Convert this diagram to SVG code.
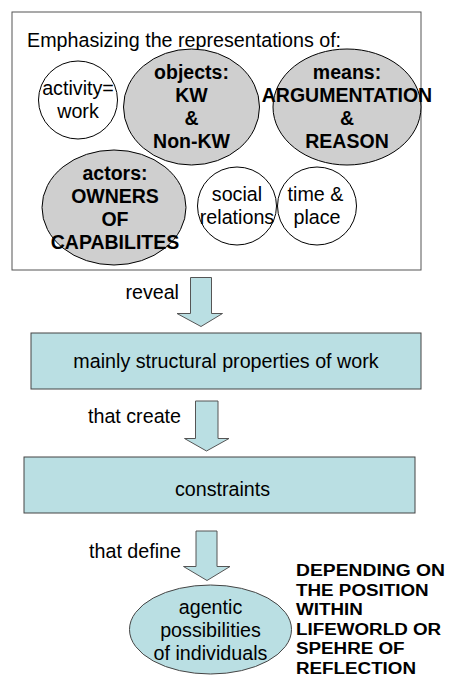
<svg xmlns="http://www.w3.org/2000/svg" width="450" height="697" viewBox="0 0 450 697">
<style>
  text { font-family: "Liberation Sans", Arial, sans-serif; fill: #000; }
  .r { font-size: 19.7px; }
  .b { font-size: 19.5px; font-weight: bold; }
  .n { font-size: 17.4px; font-weight: bold; }
  .c { text-anchor: middle; }
  .e { text-anchor: end; }
  .white { fill: #ffffff; stroke: #000; stroke-width: 1; }
  .gray { fill: #cfcfcf; stroke: #000; stroke-width: 1; }
  .blue { fill: #badfe3; stroke: #444; stroke-width: 1; }
  .arrow { fill: #badfe3; stroke: #555; stroke-width: 1; }
</style>
<rect width="450" height="697" fill="#ffffff"/>
<g id="frame">
  <rect x="12" y="12" width="409" height="258" fill="#ffffff" stroke="#555" stroke-width="1"/>
  <text class="r" x="27" y="47">Emphasizing the representations of:</text>
</g>
<g id="activity">
  <ellipse class="white" cx="78" cy="100" rx="39.5" ry="39"/>
  <text class="r c" x="78" y="95">activity=</text>
  <text class="r c" x="78" y="118">work</text>
</g>
<g id="objects">
  <ellipse class="gray" cx="191.5" cy="107" rx="68" ry="58"/>
  <text class="b c" x="191.5" y="79">objects:</text>
  <text class="b c" x="191.5" y="101.7">KW</text>
  <text class="b c" x="191.5" y="124.5">&amp;</text>
  <text class="b c" x="191.5" y="147.5">Non-KW</text>
</g>
<g id="means">
  <ellipse class="gray" cx="347" cy="107" rx="74" ry="58"/>
  <text class="b c" x="347" y="79">means:</text>
  <text class="b c" x="347" y="101.7">ARGUMENTATION</text>
  <text class="b c" x="347" y="124.5">&amp;</text>
  <text class="b c" x="347" y="147.5">REASON</text>
</g>
<g id="actors">
  <ellipse class="gray" cx="114" cy="207.5" rx="72" ry="57.5"/>
  <text class="b c" x="115" y="180">actors:</text>
  <text class="b c" x="115" y="202.5">OWNERS</text>
  <text class="b c" x="115" y="226">OF</text>
  <text class="b c" x="115" y="249">CAPABILITES</text>
</g>
<g id="social">
  <ellipse class="white" cx="237" cy="206" rx="39.5" ry="39"/>
  <text class="r c" x="237" y="201">social</text>
  <text class="r c" x="237" y="223.5">relations</text>
</g>
<g id="timeplace">
  <ellipse class="white" cx="317" cy="206" rx="39.5" ry="39"/>
  <text class="r c" x="315.5" y="201">time &amp;</text>
  <text class="r c" x="317" y="223.5">place</text>
</g>
<g id="connectors">
  <polygon class="arrow" points="190.5,277.5 211.5,277.5 211.5,313.5 222.5,313.5 201,326.5 177,313.5 190.5,313.5"/>
  <text class="r e" x="179" y="299">reveal</text>
  <polygon class="arrow" points="195.5,401 218,401 218,438.5 229,438.5 206.5,451 184.5,438.5 195.5,438.5"/>
  <text class="r e" x="181" y="423">that create</text>
  <polygon class="arrow" points="196,531 217,531 217,566.5 230,566.5 207,580.5 183.5,566.5 196,566.5"/>
  <text class="r e" x="181" y="558">that define</text>
</g>
<g id="structural">
  <rect class="blue" x="31" y="333" width="390" height="56"/>
  <text class="r c" x="226" y="368">mainly structural properties of work</text>
</g>
<g id="constraints">
  <rect class="blue" x="24" y="457" width="391" height="56"/>
  <text class="r c" x="222.5" y="496">constraints</text>
</g>
<g id="agentic">
  <ellipse class="blue" cx="210.5" cy="629.5" rx="81" ry="44.5"/>
  <text class="r c" x="210.5" y="614">agentic</text>
  <text class="r c" x="210.5" y="637">possibilities</text>
  <text class="r c" x="210.5" y="659.5">of individuals</text>
</g>
<g id="note">
  <text class="n" x="296" y="576" textLength="149" lengthAdjust="spacingAndGlyphs">DEPENDING ON</text>
  <text class="n" x="296" y="595.5" textLength="132.7" lengthAdjust="spacingAndGlyphs">THE POSITION</text>
  <text class="n" x="296" y="615" textLength="66.8" lengthAdjust="spacingAndGlyphs">WITHIN</text>
  <text class="n" x="296" y="634.5" textLength="145.2" lengthAdjust="spacingAndGlyphs">LIFEWORLD OR</text>
  <text class="n" x="296" y="654" textLength="108.6" lengthAdjust="spacingAndGlyphs">SPEHRE OF</text>
  <text class="n" x="296" y="673.5" textLength="120" lengthAdjust="spacingAndGlyphs">REFLECTION</text>
</g>
</svg>
